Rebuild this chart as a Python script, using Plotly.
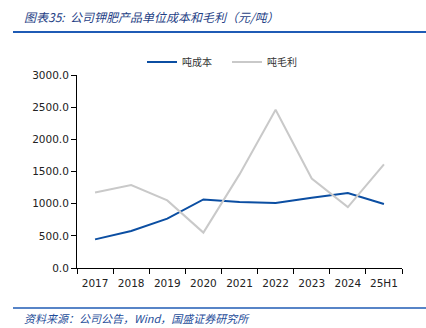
import plotly.graph_objects as go

categories = ["2017", "2018", "2019", "2020", "2021", "2022", "2023", "2024", "25H1"]
cost = [445, 575, 767, 1065, 1025, 1010, 1093, 1165, 994]
margin = [1175, 1289, 1051, 550, 1455, 2460, 1390, 947, 1610]
y_ticks = [0, 500, 1000, 1500, 2000, 2500, 3000]

W, H = 426, 328
L, R, T, B = 77, 24, 75, 60

fig = go.Figure()
fig.add_trace(go.Scatter(x=categories, y=cost, mode="lines", name="吨成本",
                         line=dict(color="#0B4EA2", width=2)))
fig.add_trace(go.Scatter(x=categories, y=margin, mode="lines", name="吨毛利",
                         line=dict(color="#C9C9C9", width=2)))

cjk = "Noto Sans CJK SC"
fig.update_layout(
    width=W, height=H,
    margin=dict(l=L, r=R, t=T, b=B),
    paper_bgcolor="white", plot_bgcolor="white",
    font=dict(family="DejaVu Sans", size=11, color="#222"),
    showlegend=True,
    legend=dict(orientation="h", x=(142 - L) / (W - L - R), y=1 + (75 - 62) / (H - T - B),
                xanchor="left", yanchor="middle",
                font=dict(family=cjk, size=10, color="#333"),
                itemwidth=30, entrywidth=40, entrywidthmode="pixels",
                tracegroupgap=0, bgcolor="rgba(0,0,0,0)"),
    xaxis=dict(type="category", showline=True, linecolor="#000", linewidth=1,
               ticks="outside", ticklen=5, tickcolor="#000", tickson="boundaries",
               showgrid=False, tickangle=0, ticklabelstandoff=5,
               tickfont=dict(size=10.5, color="#222"),
               range=[-0.5, len(categories) - 0.5]),
    yaxis=dict(range=[0, 3000], tickvals=y_ticks, tickformat=".1f",
               showline=True, linecolor="#000", linewidth=1,
               ticks="outside", ticklen=5, tickcolor="#000",
               showgrid=False, zeroline=False, tickfont=dict(size=10.5, color="#222")),
)

def px_x(p):
    return (p - L) / (W - L - R)

def px_y(p):
    return 1 - (p - T) / (H - T - B)

fig.add_shape(type="line", xref="paper", yref="paper",
              x0=px_x(13), x1=px_x(426), y0=px_y(32), y1=px_y(32),
              line=dict(color="#1F5BB5", width=2))
fig.add_shape(type="line", xref="paper", yref="paper",
              x0=px_x(13), x1=px_x(426), y0=px_y(308), y1=px_y(308),
              line=dict(color="#1F5BB5", width=1.5))
fig.add_annotation(xref="paper", yref="paper", x=px_x(22), y=px_y(16),
                   xanchor="left", yanchor="middle", showarrow=False,
                   text="<i>图表35:  公司钾肥产品单位成本和毛利（元/吨）</i>",
                   font=dict(family=cjk, size=12, color="#1F3F86"))
fig.add_annotation(xref="paper", yref="paper", x=px_x(22), y=px_y(318),
                   xanchor="left", yanchor="middle", showarrow=False,
                   text="<i>资料来源：公司公告，Wind，国盛证券研究所</i>",
                   font=dict(family=cjk, size=11, color="#1F4E9A"))

fig.write_html("out.html")
